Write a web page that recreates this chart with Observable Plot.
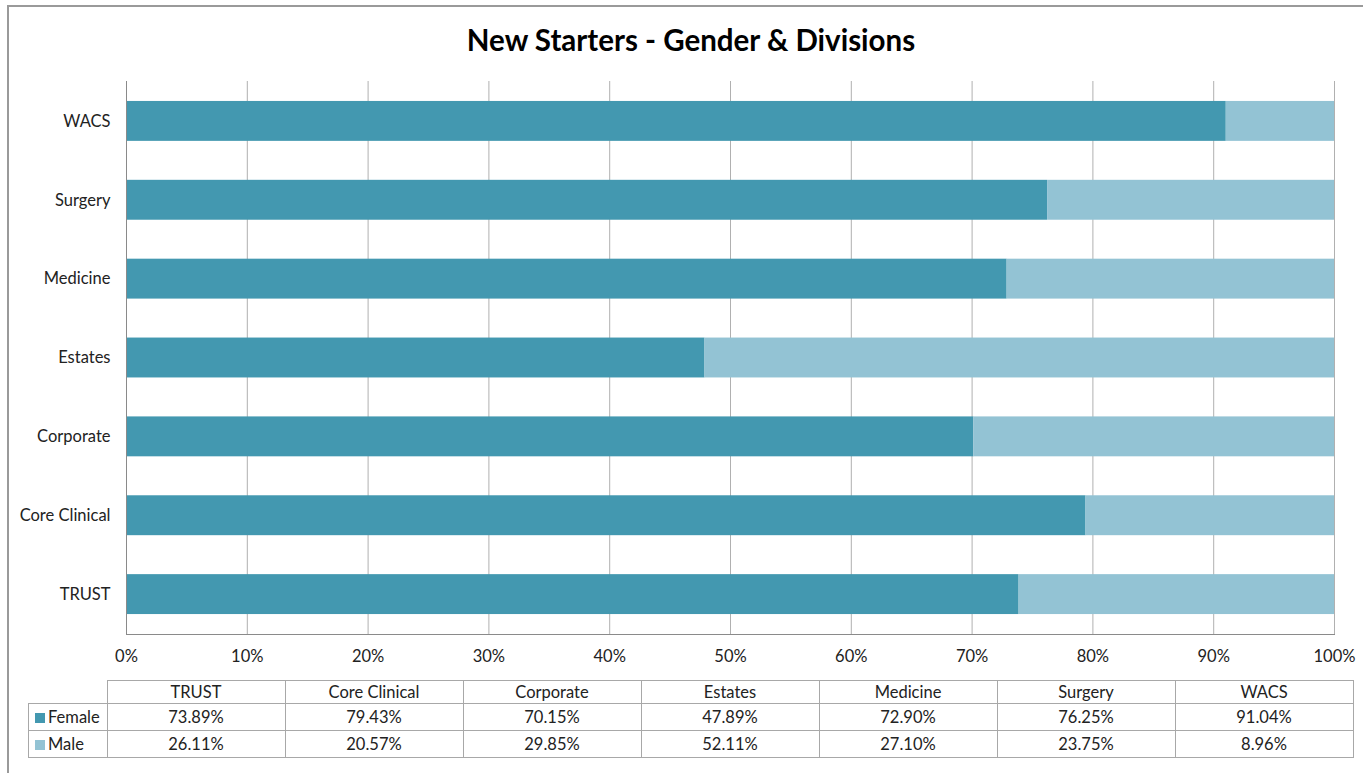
<!DOCTYPE html>
<html>
<head>
<meta charset="utf-8">
<script src="https://cdn.jsdelivr.net/npm/d3@7"></script>
<script src="https://cdn.jsdelivr.net/npm/@observablehq/plot@0.6"></script>
<style>
  html, body { margin: 0; padding: 0; background: #fff; }
  #wrap { position: relative; width: 1363px; height: 773px; overflow: hidden; font-family: Lato, "Open Sans", sans-serif; color: #222; }
  #outer { position: absolute; left: 7px; top: 5px; width: 1500px; height: 900px; border: 2px solid #9a9a9a; box-sizing: border-box; }
  #title { position: absolute; left: 0; width: 1382px; top: 22px; text-align: center; font-size: 29.5px; font-weight: bold; color: #000; }
  #chart { position: absolute; left: 0; top: 0; }
  #tbl { position: absolute; left: 28px; top: 680px; border-collapse: collapse; font-size: 16.5px; color: #222; }
  #tbl td { border: 1px solid #a8a8a8; text-align: center; padding: 0; line-height: 1; }
  #tbl tr.h td { height: 22px; }
  #tbl tr.r td { height: 26px; }
  #tbl td.blank { border: none; }
  #tbl td.lab { text-align: left; padding-left: 6px; white-space: nowrap; }
  .sw { display: inline-block; width: 10px; height: 10px; margin-right: 3px; vertical-align: 0px; }
</style>
</head>
<body>
<div id="wrap">
  <div id="outer"></div>
  <div id="chart"></div>
  <div id="title"></div>
  <table id="tbl"></table>
</div>
<script>
const chartTitle = "New Starters - Gender & Divisions";
const divisions = ["TRUST", "Core Clinical", "Corporate", "Estates", "Medicine", "Surgery", "WACS"];
const female = [73.89, 79.43, 70.15, 47.89, 72.90, 76.25, 91.04];
const male = [26.11, 20.57, 29.85, 52.11, 27.10, 23.75, 8.96];
const seriesNames = ["Female", "Male"];
const seriesColors = ["#4398b0", "#93c3d4"];
const xTicks = [0, 10, 20, 30, 40, 50, 60, 70, 80, 90, 100];

const seriesValues = [female, male];
const rows = [];
seriesNames.forEach((g, si) => {
  divisions.forEach((d, i) => rows.push({division: d, gender: g, value: seriesValues[si][i]}));
});

document.getElementById("title").textContent = chartTitle;

const chart = Plot.plot({
  width: 1363,
  height: 680,
  marginLeft: 126,
  marginRight: 29,
  marginTop: 81,
  marginBottom: 46,
  style: {fontFamily: "Lato, 'Open Sans', sans-serif", fontSize: "16.5px", color: "#222", background: "transparent", overflow: "visible"},
  x: {domain: [0, 100], label: null},
  y: {domain: divisions.slice().reverse(), paddingInner: 0.494, paddingOuter: 0.253, round: false, label: null},
  color: {domain: seriesNames, range: seriesColors},
  marks: [
    Plot.ruleX(xTicks.slice(1), {stroke: "#b0b0b0"}),
    Plot.barX(rows, Plot.stackX({y: "division", x: "value", fill: "gender", z: "gender", order: null})),
    Plot.ruleX([0], {stroke: "#8a8a8a"}),
    Plot.frame({anchor: "bottom", stroke: "#8a8a8a"}),
    Plot.axisX({ticks: xTicks, tickSize: 0, tickPadding: 16, tickFormat: d => d + "%", label: null}),
    Plot.axisY({tickSize: 0, tickPadding: 16, label: null})
  ]
});
document.getElementById("chart").appendChild(chart);

// data table
const tbl = document.getElementById("tbl");
const hr = document.createElement("tr");
hr.className = "h";
const blank = document.createElement("td");
blank.className = "blank";
blank.style.width = "78px";
hr.appendChild(blank);
divisions.forEach(d => {
  const td = document.createElement("td");
  td.style.width = "177px";
  td.textContent = d;
  hr.appendChild(td);
});
tbl.appendChild(hr);
seriesNames.forEach((g, si) => {
  const tr = document.createElement("tr");
  tr.className = "r";
  const lab = document.createElement("td");
  lab.className = "lab";
  const sw = document.createElement("span");
  sw.className = "sw";
  sw.style.background = seriesColors[si];
  lab.appendChild(sw);
  lab.appendChild(document.createTextNode(g));
  tr.appendChild(lab);
  seriesValues[si].forEach(v => {
    const td = document.createElement("td");
    td.textContent = v.toFixed(2) + "%";
    tr.appendChild(td);
  });
  tbl.appendChild(tr);
});
</script>
</body>
</html>
